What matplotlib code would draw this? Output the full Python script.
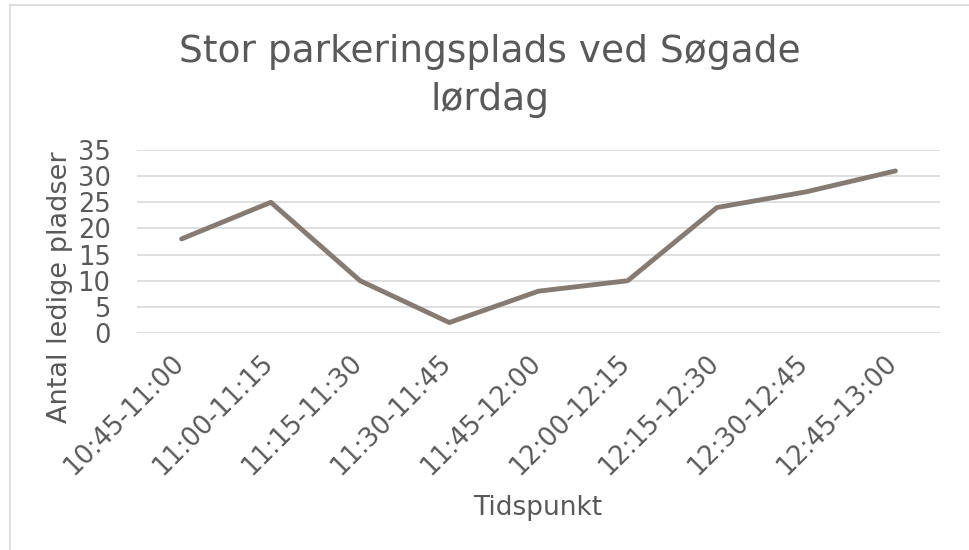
import matplotlib.pyplot as plt
from matplotlib.patches import Rectangle
from matplotlib.transforms import ScaledTranslation

# data
time_slots = ["10:45-11:00", "11:00-11:15", "11:15-11:30", "11:30-11:45", "11:45-12:00",
              "12:00-12:15", "12:15-12:30", "12:30-12:45", "12:45-13:00"]
free_spots = [18, 25, 10, 2, 8, 10, 24, 27, 31]
y_ticks = [0, 5, 10, 15, 20, 25, 30, 35]

title = "Stor parkeringsplads ved Søgade\nlørdag"
x_label = "Tidspunkt"
y_label = "Antal ledige pladser"

text_color = "#595959"
line_color = "#857b73"
grid_color = "#d9d9d9"

W, H = 969, 550
fig = plt.figure(figsize=(W / 100, H / 100), dpi=100)
fig.patch.set_facecolor("white")

# chart frame (light gray border, only top/left visible in the crop)
fig.patches.append(Rectangle((10 / W, -0.1), 1.2, 1.1 - 5 / H, transform=fig.transFigure,
                             fill=False, edgecolor=grid_color, linewidth=1.2))

ax = fig.add_axes([137 / W, 1 - 333 / H, (940 - 137) / W, (333 - 150) / H])
x = list(range(len(time_slots)))
ax.plot(x, free_spots, color=line_color, linewidth=3.5, solid_capstyle="round",
        solid_joinstyle="round", zorder=3)

ax.set_xlim(-0.5, len(time_slots) - 0.5)
ax.set_ylim(0, 35)
ax.set_yticks(y_ticks)
ax.set_xticks(x)
ax.set_xticklabels(time_slots, rotation=45, ha="right", va="center", rotation_mode="anchor")
for t in y_ticks:
    ax.axhline(t, color=grid_color, linewidth=1.2, zorder=1)

ax.tick_params(axis="both", length=0, colors=text_color, labelsize=18.5)
ax.tick_params(axis="x", pad=19)
ax.tick_params(axis="y", pad=19)
for s in ax.spines.values():
    s.set_visible(False)

# nudge rotated labels a little left, like Excel places them
shift = ScaledTranslation(-2 / 100, 0, fig.dpi_scale_trans)
for lbl in ax.get_xticklabels():
    lbl.set_transform(lbl.get_transform() + shift)

fig.text(490 / W, 1 - 76 / H, title, ha="center", va="center", fontsize=27,
         color=text_color, multialignment="center", linespacing=1.4)
fig.text(538 / W, 1 - 508 / H, x_label, ha="center", va="center", fontsize=19, color=text_color)
fig.text(60 / W, 1 - 287 / H, y_label, ha="center", va="center", rotation=90,
         fontsize=19.5, color=text_color)

fig.savefig("out.png", dpi=100)
